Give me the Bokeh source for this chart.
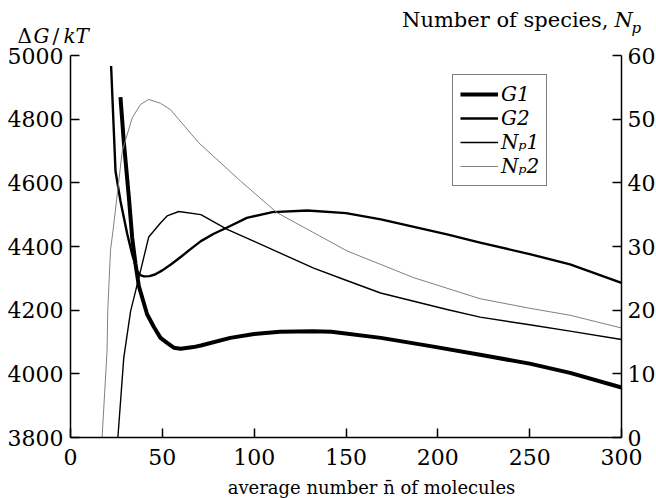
from bokeh.plotting import figure
from bokeh.models import Range1d, LinearAxis, Legend, LegendItem, Label, FixedTicker
from bokeh.embed import file_html
from bokeh.resources import INLINE

# ---- data ----
n_G1 = [27.2, 29.0, 31.8, 33.6, 35.4, 37.2, 41.7, 45.4, 49.0, 52.6, 56.2, 60.0,
        67.0, 71.0, 87.0, 100.0, 114.0, 132.0, 142.0, 169.0, 196.0, 223.0,
        250.0, 272.0, 300.0]
G1 = [4869, 4731, 4553, 4427, 4345, 4276, 4187, 4147, 4113, 4097, 4082, 4079,
      4084, 4089, 4113, 4125, 4132, 4134, 4132, 4113, 4087, 4060,
      4032, 4003, 3957]

n_G2 = [22.1, 24.5, 27.2, 30.9, 33.6, 36.3, 38.0, 40.0, 43.0, 46.0, 50.0, 55.0,
        60.0, 65.0, 71.0, 78.0, 85.0, 96.0, 110.0, 129.0, 150.0, 169.0, 205.0,
        223.0, 250.0, 272.0, 300.0]
G2 = [4967, 4637, 4543, 4439, 4375, 4323, 4310, 4306, 4307, 4312, 4325, 4345,
      4367, 4390, 4417, 4440, 4459, 4490, 4508, 4513, 4505, 4485, 4438,
      4412, 4376, 4344, 4286]

n_Np1 = [25.8, 29.0, 32.7, 36.3, 42.6, 49.0, 52.6, 59.0, 71.0, 85.3, 100.0,
         132.4, 150.0, 168.8, 205.0, 223.0, 250.0, 272.0, 300.0]
Np1 = [0.0, 12.5, 19.8, 24.0, 31.5, 33.7, 34.8, 35.5, 35.0, 32.7, 30.8,
       26.6, 24.7, 22.7, 20.1, 18.9, 17.7, 16.7, 15.4]

n_Np2 = [17.2, 19.9, 20.3, 21.8, 23.2, 28.2, 33.6, 38.1, 42.6, 49.0, 54.4,
         69.8, 92.5, 112.5, 150.6, 186.9, 223.0, 250.0, 272.0, 300.0]
Np2 = [0.0, 13.6, 20.1, 29.5, 32.6, 45.0, 50.2, 52.3, 53.1, 52.5, 51.5,
       46.3, 40.3, 35.3, 29.3, 25.1, 21.8, 20.3, 19.2, 17.2]

x_ticks = [0, 50, 100, 150, 200, 250, 300]
g_ticks = [3800, 4000, 4200, 4400, 4600, 4800, 5000]
np_ticks = [0, 10, 20, 30, 40, 50, 60]
legend_labels = ["G1", "G2", "N\u209a1", "N\u209a2"]
x_title = "average number n\u0304 of molecules"

FONT = "DejaVu Serif"
W, H = 656, 498
# frame covers the whole canvas; axes sit at fixed data locations
FL, FR, FT, FB = 70, 621, 55, 437          # pixel positions of the data box
sx = (FR - FL) / 300.0
sg = (FB - FT) / 1200.0
sn = (FB - FT) / 60.0

p = figure(width=W, height=H, output_backend="svg", toolbar_location=None,
           x_axis_location=None, y_axis_location=None,
           x_range=Range1d(0 - FL / sx, 300 + (W - FR) / sx),
           y_range=Range1d(3800 - (H - FB) / sg, 5000 + FT / sg),
           min_border=0)
p.extra_y_ranges = {"np": Range1d(0 - (H - FB) / sn, 60 + FT / sn)}
p.outline_line_color = None
p.grid.visible = False
p.background_fill_color = "white"
p.border_fill_color = "white"

xax = LinearAxis(fixed_location=3800, bounds=(0, 300))
lax = LinearAxis(fixed_location=0, bounds=(3800, 5000))
rax = LinearAxis(fixed_location=300, y_range_name="np", bounds=(0, 60))
p.add_layout(xax, "below")
p.add_layout(lax, "left")
p.add_layout(rax, "right")

xax.ticker = FixedTicker(ticks=x_ticks)
lax.ticker = FixedTicker(ticks=g_ticks)
rax.ticker = FixedTicker(ticks=np_ticks)

for ax in [xax, lax, rax]:
    ax.axis_line_width = 1.5
    ax.axis_line_color = "black"
    ax.major_tick_in = 9
    ax.major_tick_out = 0
    ax.major_tick_line_width = 1.5
    ax.major_tick_line_color = "black"
    ax.minor_tick_line_color = None
    ax.major_label_text_font = FONT
    ax.major_label_text_font_size = "22px"
    ax.major_label_text_color = "black"

lax.major_label_standoff = 7
rax.major_label_standoff = 6
xax.major_label_standoff = 11

r1 = p.line(n_G1, G1, line_width=4, line_color="black", line_join="round")
r2 = p.line(n_G2, G2, line_width=2.4, line_color="black", line_join="round")
r3 = p.line(n_Np1, Np1, line_width=1.4, line_color="black", line_join="round",
            y_range_name="np")
r4 = p.line(n_Np2, Np2, line_width=1, line_color="#808080", line_join="round",
            y_range_name="np")

legend = Legend(items=[LegendItem(label=legend_labels[0], renderers=[r1]),
                       LegendItem(label=legend_labels[1], renderers=[r2]),
                       LegendItem(label=legend_labels[2], renderers=[r3]),
                       LegendItem(label=legend_labels[3], renderers=[r4])],
                location=(452, H - 186))
legend.label_text_font = FONT
legend.label_text_font_style = "italic"
legend.label_text_font_size = "20px"
legend.label_text_color = "black"
legend.border_line_color = "black"
legend.border_line_width = 1.5
legend.background_fill_color = "white"
legend.background_fill_alpha = 1
legend.padding = 7
legend.spacing = 0
legend.margin = 0
legend.glyph_width = 38
legend.glyph_height = 24
legend.label_height = 24
legend.label_standoff = 3
p.add_layout(legend)

def lab(text, x, y, size="20px", style="normal", align="left"):
    p.add_layout(Label(x=x, y=y, x_units="canvas", y_units="canvas", text=text,
                       text_font=FONT, text_font_size=size, text_font_style=style,
                       text_align=align, text_baseline="alphabetic",
                       text_color="black"))

# left axis title: ΔG/kT
lab("\u0394", 17, 35)
lab("G", 33, 35, style="italic")
lab("/", 52, 35)
lab("kT", 63, 35, style="italic")
# right axis title: Number of species, N_p
lab("Number of species,", 608, 19, size="21px", align="right")
lab("N", 614, 19, size="21px", style="italic")
lab("p", 631, 27, size="15px", style="italic")
# x axis title
lab(x_title, 371, 487, size="18px", align="center")

open("out.html", "w").write(file_html(p, INLINE))
